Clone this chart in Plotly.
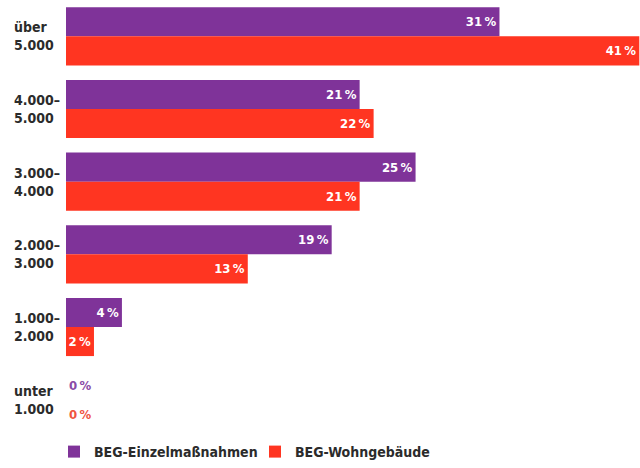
import plotly.graph_objects as go

categories = ["über<br>5.000", "4.000–<br>5.000", "3.000–<br>4.000",
              "2.000–<br>3.000", "1.000–<br>2.000", "unter<br>1.000"]
einzel = [31, 21, 25, 19, 4, 0]
wohn = [41, 22, 21, 13, 2, 0]

PURPLE = "#7F3399"
RED = "#FF3521"
FONT = "DejaVu Sans Condensed, Liberation Sans Narrow, Arial Narrow, sans-serif"


def bar_trace(name, values, color, zero_color):
    return go.Bar(
        name=name,
        y=categories,
        x=values,
        orientation="h",
        marker=dict(color=color, line=dict(width=0)),
        text=[f"{v}\u2009%" for v in values],
        textposition=["inside" if v > 0 else "outside" for v in values],
        insidetextanchor="end",
        textangle=0,
        constraintext="none",
        textfont=dict(family=FONT, size=13, weight="bold",
                      color=["white" if v > 0 else zero_color for v in values]),
        cliponaxis=False,
        hoverinfo="skip",
    )


fig = go.Figure()
fig.add_trace(bar_trace("BEG-Einzelmaßnahmen", einzel, PURPLE, "#8A4BA6"))
fig.add_trace(bar_trace("BEG-Wohngebäude", wohn, RED, "#F0553F"))

for cat in categories:
    fig.add_annotation(
        x=-54 / 574, xref="paper", y=cat, yref="y",
        text=cat, showarrow=False,
        xanchor="left", align="left",
        font=dict(family=FONT, size=14, weight="bold", color="#2b2b2b"),
    )

fig.update_layout(
    width=640, height=468,
    margin=dict(l=66, r=0, t=0, b=20),
    paper_bgcolor="white", plot_bgcolor="white",
    barmode="group", bargap=0.2, bargroupgap=0,
    xaxis=dict(range=[0, 41.05], visible=False, fixedrange=True),
    yaxis=dict(autorange="reversed", showticklabels=False, showgrid=False,
               zeroline=False, showline=False, ticks="", fixedrange=True),
    legend=dict(orientation="h", xref="container", x=54 / 640, xanchor="left",
                yref="container", y=-0.028, yanchor="bottom",
                font=dict(family=FONT, size=14, weight="bold", color="#2b2b2b"),
                itemwidth=30, traceorder="normal", entrywidth=156),
    font=dict(family=FONT),
)

fig.write_html("out.html", config={"displayModeBar": False},
               post_script="document.body.style.margin='0';")
